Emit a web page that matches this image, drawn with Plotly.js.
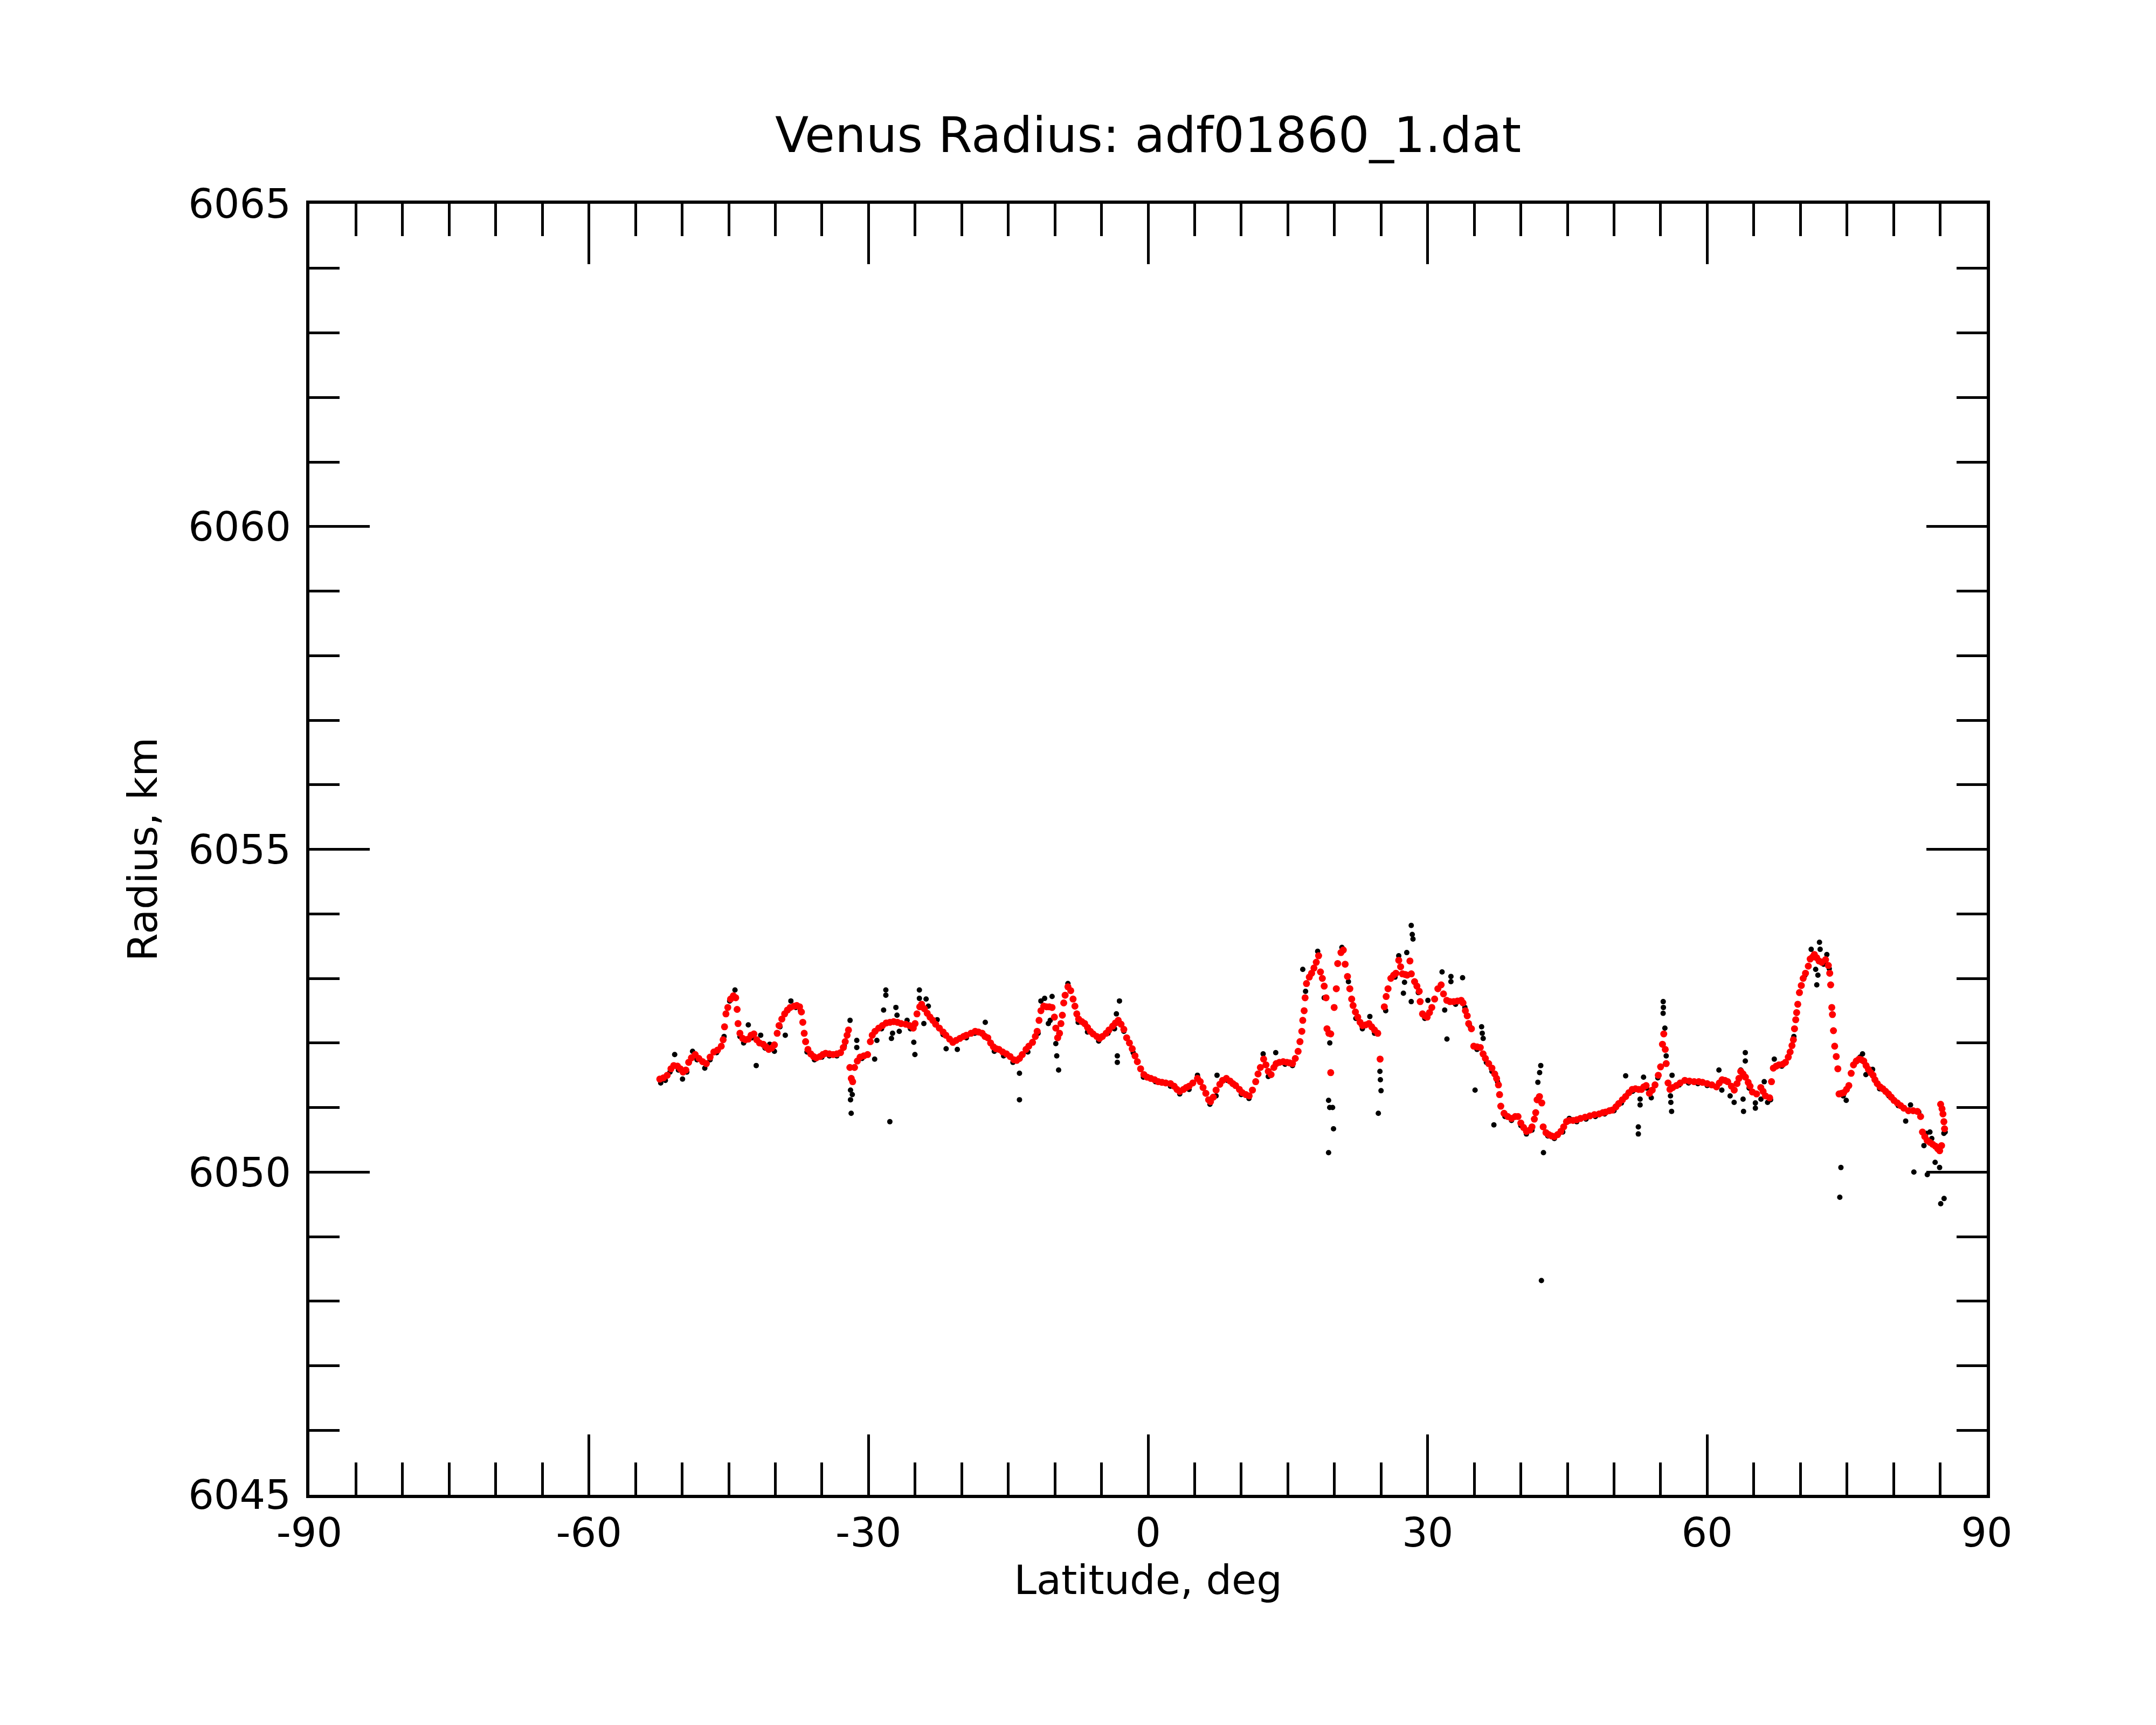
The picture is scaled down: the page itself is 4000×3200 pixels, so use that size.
<!DOCTYPE html>
<html>
<head>
<meta charset="utf-8">
<script src="https://cdn.plot.ly/plotly-3.0.1.min.js"></script>
<style>
html,body{margin:0;padding:0;background:#fff;}
#chart{width:4000px;height:3200px;}
</style>
</head>
<body>
<div id="chart"></div>
<script>
// ---- Data ----
const chartTitle = "Venus Radius: adf01860_1.dat";
const xTitle = "Latitude, deg";
const yTitle = "Radius, km";
const xTickVals = [-90, -60, -30, 0, 30, 60, 90];
const yTickVals = [6045, 6050, 6055, 6060, 6065];

// Smoothed radius profile (red)
const redLat = [
-52.4,-52.0,-51.6,-51.2,-50.9,-50.5,-50.2,-49.9,-49.6,-49.3,-49.0,-48.6,-48.2,-47.8,-47.4,-47.0,-46.6,-46.2,-45.8,-45.6,
-45.45,-45.3,-45.1,-44.8,-44.5,-44.25,-44.1,-44.0,-43.8,-43.5,-43.2,-42.9,-42.6,-42.3,-42.0,-41.7,-41.3,-41.0,-40.7,-40.4,
-40.1,-39.8,-39.6,-39.3,-39.0,-38.7,-38.4,-38.0,-37.7,-37.4,-37.2,-37.05,-36.9,-36.75,-36.5,-36.2,-35.9,-35.6,-35.2,-34.9,
-34.6,-34.2,-33.8,-33.4,-33.0,-32.7,-32.5,-32.3,-32.15,-32.0,-31.85,-31.7,-31.5,-31.2,-30.9,-30.5,-30.1,-29.8,-29.6,-29.3,
-28.9,-28.5,-28.1,-27.7,-27.3,-26.9,-26.5,-26.0,-25.6,-25.2,-25.0,-24.8,-24.5,-24.3,-24.0,-23.7,-23.4,-23.1,-22.8,-22.4,
-22.0,-21.7,-21.3,-20.95,-20.6,-20.2,-19.8,-19.5,-19.0,-18.55,-18.2,-17.8,-17.5,-17.2,-16.9,-16.6,-16.3,-16.0,-15.6,-15.2,
-14.8,-14.4,-14.1,-13.8,-13.5,-13.1,-12.8,-12.4,-12.1,-11.9,-11.7,-11.5,-11.2,-10.9,-10.6,-10.3,-10.05,-9.9,-9.7,-9.5,
-9.35,-9.2,-9.05,-8.9,-8.6,-8.3,-8.05,-7.85,-7.65,-7.45,-7.1,-6.8,-6.5,-6.2,-5.9,-5.5,-5.2,-4.9,-4.5,-4.2,
-3.8,-3.5,-3.2,-2.9,-2.6,-2.3,-2.0,-1.7,-1.4,-1.15,-0.8,-0.45,-0.1,0.3,0.7,1.1,1.5,1.9,2.4,2.8,
3.1,3.4,3.8,4.1,4.4,4.8,5.3,5.6,5.9,6.2,6.5,6.7,7.0,7.3,7.7,8.0,8.4,8.8,9.1,9.4,
9.8,10.1,10.5,10.85,11.2,11.55,11.8,12.05,12.4,12.65,12.9,13.2,13.5,13.75,14.1,14.5,14.9,15.2,15.5,15.8,
16.1,16.3,16.5,16.6,16.75,16.85,17.0,17.3,17.55,17.8,18.05,18.3,18.5,18.7,18.9,19.1,19.2,19.4,19.6,19.6,
19.97,20.2,20.35,20.7,20.95,21.15,21.4,21.65,21.85,22.0,22.25,22.5,22.75,23.0,23.35,23.7,24.0,24.3,24.65,24.9,
25.35,25.55,25.75,26.05,26.35,26.6,26.9,27.1,27.3,27.6,27.8,28.1,28.25,28.6,28.85,29.1,29.2,29.45,29.7,29.95,
30.2,30.45,30.75,31.1,31.45,31.7,32.05,32.4,32.8,33.2,33.6,33.8,34.05,34.25,34.4,34.7,34.95,35.3,35.65,35.95,
36.2,36.55,36.9,37.2,37.4,37.6,37.72,37.85,38.2,38.6,39.0,39.4,39.7,40.0,40.3,40.6,40.95,41.2,41.45,41.6,
41.75,42.0,42.25,42.4,42.7,43.0,43.3,43.6,43.95,44.3,44.6,44.9,45.2,45.6,46.0,46.4,46.9,47.4,47.9,48.4,
48.8,49.1,49.5,49.8,50.2,50.5,50.9,51.25,51.6,51.95,52.3,52.65,52.95,53.2,53.45,53.8,54.1,54.4,54.75,55.0,
55.2,55.34,55.5,55.6,55.8,56.0,56.3,56.7,57.1,57.6,58.1,58.6,59.1,59.5,60.0,60.5,61.0,61.3,61.6,61.9,
62.2,62.6,62.9,63.2,63.4,63.6,63.85,64.1,64.4,64.6,64.85,65.3,65.75,66.0,66.25,66.7,66.9,67.1,67.4,67.7,
68.1,68.4,68.7,68.9,69.1,69.25,69.37,69.5,69.6,69.72,69.9,70.1,70.3,70.55,70.85,71.05,71.3,71.5,71.75,72.0,
72.3,72.7,73.0,73.15,73.25,73.37,73.44,73.55,73.68,73.85,74.02,74.15,74.4,74.65,74.95,75.2,75.45,75.7,76.0,76.3,
76.55,76.8,77.05,77.3,77.55,77.8,78.0,78.25,78.55,78.85,79.15,79.45,79.75,80.05,80.4,80.75,81.1,81.6,82.1,82.55,
82.9,83.1,83.35,83.6,83.9,84.2,84.5,84.75,84.95,85.15,85.05,85.2,85.3,85.4,85.47
];
const redRadius = [
6051.44,6051.46,6051.50,6051.60,6051.65,6051.64,6051.60,6051.55,6051.58,6051.70,6051.77,6051.82,6051.76,6051.71,6051.68,6051.78,6051.86,6051.89,6051.95,6052.05,
6052.25,6052.45,6052.55,6052.68,6052.73,6052.70,6052.52,6052.30,6052.15,6052.07,6052.05,6052.06,6052.12,6052.14,6052.05,6052.00,6051.98,6051.94,6051.90,6051.92,
6051.97,6052.15,6052.27,6052.37,6052.45,6052.51,6052.55,6052.57,6052.58,6052.56,6052.48,6052.32,6052.15,6052.02,6051.90,6051.83,6051.79,6051.77,6051.79,6051.82,
6051.84,6051.83,6051.82,6051.83,6051.85,6051.93,6052.02,6052.12,6052.20,6051.62,6051.45,6051.40,6051.62,6051.72,6051.78,6051.80,6051.82,6052.02,6052.12,6052.18,
6052.23,6052.27,6052.31,6052.32,6052.33,6052.32,6052.30,6052.29,6052.27,6052.23,6052.30,6052.45,6052.56,6052.60,6052.53,6052.46,6052.40,6052.35,6052.29,6052.23,
6052.17,6052.12,6052.06,6052.01,6052.04,6052.07,6052.10,6052.12,6052.15,6052.18,6052.17,6052.15,6052.10,6052.08,6052.00,6051.94,6051.91,6051.90,6051.86,6051.83,
6051.79,6051.74,6051.73,6051.76,6051.82,6051.90,6051.95,6052.01,6052.10,6052.18,6052.35,6052.50,6052.57,6052.56,6052.56,6052.55,6052.40,6052.23,6052.08,6052.15,
6052.30,6052.43,6052.62,6052.74,6052.87,6052.81,6052.68,6052.57,6052.45,6052.37,6052.33,6052.30,6052.24,6052.18,6052.14,6052.10,6052.07,6052.10,6052.15,6052.20,
6052.26,6052.31,6052.35,6052.29,6052.21,6052.08,6052.00,6051.91,6051.80,6051.71,6051.60,6051.51,6051.47,6051.45,6051.43,6051.40,6051.39,6051.38,6051.37,6051.33,
6051.28,6051.25,6051.28,6051.31,6051.33,6051.38,6051.45,6051.40,6051.31,6051.22,6051.12,6051.09,6051.16,6051.27,6051.36,6051.42,6051.45,6051.41,6051.37,6051.34,
6051.28,6051.23,6051.20,6051.18,6051.27,6051.40,6051.52,6051.62,6051.75,6051.66,6051.56,6051.51,6051.62,6051.68,6051.70,6051.71,6051.70,6051.69,6051.68,6051.76,
6051.87,6052.02,6052.18,6052.35,6052.50,6052.70,6052.92,6053.02,6053.08,6053.16,6053.25,6053.35,6053.10,6053.00,6052.88,6052.70,6052.22,6052.15,6052.14,6051.54,
6052.55,6052.84,6053.23,6053.40,6053.44,6053.22,6053.03,6052.84,6052.68,6052.58,6052.48,6052.40,6052.32,6052.27,6052.28,6052.30,6052.25,6052.20,6052.15,6051.75,
6052.56,6052.72,6052.84,6053.00,6053.05,6053.08,6053.28,6053.18,6053.07,6053.06,6053.05,6053.27,6053.07,6052.95,6052.88,6052.80,6052.64,6052.45,6052.42,6052.40,
6052.47,6052.55,6052.68,6052.84,6052.90,6052.76,6052.66,6052.64,6052.64,6052.65,6052.66,6052.62,6052.50,6052.42,6052.30,6052.22,6051.95,6051.94,6051.93,6051.83,
6051.76,6051.68,6051.61,6051.52,6051.45,6051.35,6051.20,6051.02,6050.91,6050.86,6050.83,6050.86,6050.86,6050.76,6050.69,6050.63,6050.65,6050.70,6050.82,6050.92,
6051.12,6051.17,6051.07,6050.70,6050.61,6050.58,6050.56,6050.55,6050.58,6050.63,6050.70,6050.78,6050.80,6050.80,6050.81,6050.83,6050.85,6050.87,6050.89,6050.90,
6050.92,6050.93,6050.95,6050.96,6051.01,6051.06,6051.12,6051.17,6051.23,6051.28,6051.29,6051.28,6051.28,6051.32,6051.34,6051.22,6051.27,6051.35,6051.50,6051.63,
6051.98,6052.14,6051.90,6051.68,6051.38,6051.28,6051.31,6051.34,6051.38,6051.42,6051.41,6051.40,6051.40,6051.39,6051.37,6051.35,6051.32,6051.38,6051.43,6051.42,
6051.40,6051.33,6051.27,6051.37,6051.45,6051.56,6051.52,6051.47,6051.39,6051.33,6051.24,6051.21,6051.31,6051.25,6051.18,6051.15,6051.40,6051.61,6051.64,6051.66,
6051.67,6051.70,6051.78,6051.86,6051.96,6052.05,6052.22,6052.36,6052.47,6052.60,6052.78,6052.89,6053.00,6053.08,6053.19,6053.30,6053.33,6053.37,6053.32,6053.27,
6053.25,6053.29,6053.20,6053.08,6052.90,6052.55,6052.44,6052.19,6051.95,6051.79,6051.60,6051.21,6051.22,6051.23,6051.28,6051.34,6051.53,6051.66,6051.72,6051.75,
6051.74,6051.72,6051.65,6051.59,6051.54,6051.50,6051.43,6051.37,6051.32,6051.29,6051.25,6051.21,6051.16,6051.11,6051.07,6051.03,6050.99,6050.95,6050.95,6050.94,
6050.86,6050.62,6050.55,6050.49,6050.46,6050.43,6050.40,6050.36,6050.33,6050.41,6051.05,6050.98,6050.90,6050.78,6050.67
];

// Raw radius samples (black)
const blackLat = [
-52.3,-51.8,-51.3,-50.8,-50.4,-49.96,-49.5,-48.88,-48.4,-47.57,-47.0,-46.3,-45.5,-44.9,-44.33,-43.8,-43.4,-42.9,-42.5,-42.05,
-41.57,-41.1,-40.6,-40.1,-39.5,-38.93,-38.33,-37.8,-37.3,-36.6,-35.8,-35.0,-34.2,-33.4,-32.6,-31.98,-31.26,-31.26,-31.93,-31.74,
-31.93,-31.86,-30.7,-29.34,-29.1,-28.6,-28.38,-28.14,-28.14,-27.71,-27.54,-27.42,-27.06,-26.94,-26.7,-25.86,-25.5,-25.14,-25.02,-24.54,
-24.54,-24.06,-23.82,-23.58,-22.63,-22.0,-21.67,-20.47,-19.5,-18.6,-17.59,-17.47,-16.5,-15.5,-14.5,-13.8,-13.8,-12.9,-11.8,-11.5,
-11.1,-10.3,-10.5,-10.7,-9.9,-9.8,-9.6,-8.6,-7.5,-6.5,-5.3,-4.3,-3.6,-3.4,-3.07,-3.3,-3.3,-2.6,-1.6,-0.5,
0.8,2.4,3.4,4.4,5.3,6.64,7.4,7.3,8.5,10.0,10.83,12.35,12.9,13.7,14.7,15.5,16.6,16.9,18.2,18.9,
19.37,19.49,19.8,19.9,19.37,19.5,20.8,21.5,22.3,23.0,23.8,24.3,24.88,24.93,25.0,24.71,25.5,26.5,26.9,27.4,
27.52,27.76,28.24,28.35,28.43,28.24,29.0,29.7,30.03,31.55,31.83,32.07,32.5,32.5,33.0,33.75,34.0,34.5,35.09,35.3,
35.79,35.86,35.96,36.3,36.9,37.11,37.5,38.3,39.0,40.0,40.6,41.2,41.83,42.02,42.14,42.43,42.21,42.9,43.6,44.5,
45.2,46.0,47.0,48.0,49.0,50.0,50.8,51.25,51.5,52.0,52.61,52.61,52.8,52.8,53.17,53.5,54.0,54.7,55.28,55.3,
55.27,55.46,55.6,56.06,56.1,56.18,56.23,57.0,58.0,59.0,60.0,61.26,61.57,62.46,62.89,63.6,63.85,63.9,64.09,64.09,
64.5,65.17,65.17,65.77,66.12,66.48,66.8,67.2,68.0,69.3,70.5,71.16,71.64,71.76,71.88,72.05,72.12,72.5,72.84,73.1,
74.23,74.35,74.6,74.92,76.4,76.67,77.03,77.75,78.5,79.5,80.5,81.3,81.82,82.18,82.7,83.26,83.62,83.5,83.9,84.1,
84.46,84.94,85.06,85.42,85.54,85.4
];
const blackRadius = [
6051.38,6051.42,6051.55,6051.82,6051.58,6051.44,6051.55,6051.87,6051.74,6051.61,6051.74,6051.85,6052.10,6052.65,6052.82,6052.10,6052.00,6052.28,6052.08,6051.65,
6052.12,6051.92,6051.98,6051.87,6052.25,6052.12,6052.65,6052.55,6052.50,6051.86,6051.74,6051.78,6051.80,6051.80,6051.95,6052.35,6052.04,6051.93,6051.27,6051.20,
6051.12,6050.91,6051.76,6051.75,6052.04,6052.22,6052.51,6052.82,6052.74,6050.78,6052.07,6052.15,6052.55,6052.43,6052.18,6052.35,6052.22,6052.01,6051.82,6052.82,
6052.69,6052.30,6052.68,6052.57,6052.36,6052.13,6051.91,6051.90,6052.08,6052.15,6052.12,6052.32,6051.87,6051.80,6051.70,6051.53,6051.12,6051.86,6052.15,6052.65,
6052.69,6052.72,6052.35,6052.30,6051.99,6051.80,6051.58,6052.92,6052.32,6052.17,6052.03,6052.15,6052.22,6052.45,6052.65,6051.80,6051.70,6052.18,6051.85,6051.47,
6051.40,6051.33,6051.21,6051.28,6051.50,6051.05,6051.50,6051.18,6051.42,6051.20,6051.14,6051.83,6051.48,6051.85,6051.67,6051.65,6053.14,6052.80,6053.42,6052.70,
6051.11,6051.00,6051.00,6050.67,6050.30,6052.00,6053.48,6052.95,6052.38,6052.22,6052.41,6052.15,6051.56,6051.43,6051.26,6050.91,6052.50,6053.02,6053.35,6052.77,
6052.94,6053.40,6053.82,6053.68,6053.61,6052.64,6052.78,6052.38,6052.66,6053.10,6052.51,6052.06,6053.03,6052.95,6052.60,6053.01,6052.55,6052.27,6051.27,6051.90,
6052.25,6052.15,6052.07,6051.70,6051.56,6050.73,6051.40,6050.86,6050.80,6050.72,6050.59,6050.65,6051.39,6051.54,6051.65,6050.30,6048.32,6050.56,6050.52,6050.62,
6050.83,6050.78,6050.82,6050.86,6050.90,6050.95,6051.07,6051.49,6051.22,6051.25,6050.70,6050.59,6051.13,6051.04,6051.47,6051.30,6051.15,6051.46,6052.64,6052.55,
6052.46,6052.23,6051.80,6051.18,6051.08,6050.94,6051.50,6051.35,6051.38,6051.37,6051.34,6051.58,6051.27,6051.18,6051.08,6051.58,6051.13,6050.94,6051.85,6051.72,
6051.30,6051.07,6050.99,6051.13,6051.40,6051.08,6051.12,6051.75,6051.64,6052.10,6053.05,6053.45,6053.14,6052.90,6053.05,6053.56,6053.45,6053.22,6053.37,6053.15,
6049.61,6050.07,6051.18,6051.11,6051.78,6051.83,6051.51,6051.59,6051.29,6051.18,6051.03,6050.79,6051.04,6050.00,6050.93,6050.41,6049.96,6050.60,6050.62,6050.52,
6050.15,6050.07,6049.51,6049.59,6050.62,6050.60
];

// ---- Plot ----
const FONT = "DejaVu Sans";

const traces = [
  {
    type: "scatter", mode: "markers",
    x: blackLat, y: blackRadius,
    marker: {color: "#000000", size: 10, line: {width: 0}},
    hoverinfo: "skip", showlegend: false
  },
  {
    type: "scatter", mode: "markers",
    x: redLat, y: redRadius,
    marker: {color: "#ff0000", size: 13, line: {width: 0}},
    hoverinfo: "skip", showlegend: false
  }
];

const axisCommon = {
  showline: true, linecolor: "#000", linewidth: 6,
  mirror: "allticks", ticks: "inside", tickcolor: "#000", tickwidth: 5,
  showgrid: false, zeroline: false,
  tickfont: {family: FONT, size: 75, color: "#000"}
};

const layout = {
  width: 4000, height: 3200,
  paper_bgcolor: "#fff", plot_bgcolor: "#fff",
  margin: {l: 574, r: 314, t: 378, b: 427, pad: 0},
  font: {family: FONT, color: "#000"},
  showlegend: false,
  title: {
    text: chartTitle,
    font: {family: FONT, size: 91, color: "#000"},
    x: 0.5, xref: "paper", xanchor: "center",
    y: 1 - 250 / 3200, yref: "container", yanchor: "middle"
  },
  xaxis: Object.assign({}, axisCommon, {
    range: [-90, 90],
    tickmode: "array", tickvals: xTickVals, ticktext: xTickVals.map(String),
    ticklen: 112,
    minor: {dtick: 5, tick0: 0, ticks: "inside", ticklen: 60, tickwidth: 5, tickcolor: "#000", showgrid: false},
    title: {text: xTitle, font: {family: FONT, size: 75, color: "#000"}, standoff: 0}
  }),
  yaxis: Object.assign({}, axisCommon, {
    range: [6045, 6065],
    tickmode: "array", tickvals: yTickVals, ticktext: yTickVals.map(String),
    ticklen: 112,
    ticklabelstandoff: 13,
    minor: {dtick: 1, tick0: 6045, ticks: "inside", ticklen: 56, tickwidth: 5, tickcolor: "#000", showgrid: false},
    title: {text: yTitle, font: {family: FONT, size: 75, color: "#000"}, standoff: 35}
  })
};

Plotly.newPlot("chart", traces, layout, {displayModeBar: false, staticPlot: true});
</script>
</body>
</html>
